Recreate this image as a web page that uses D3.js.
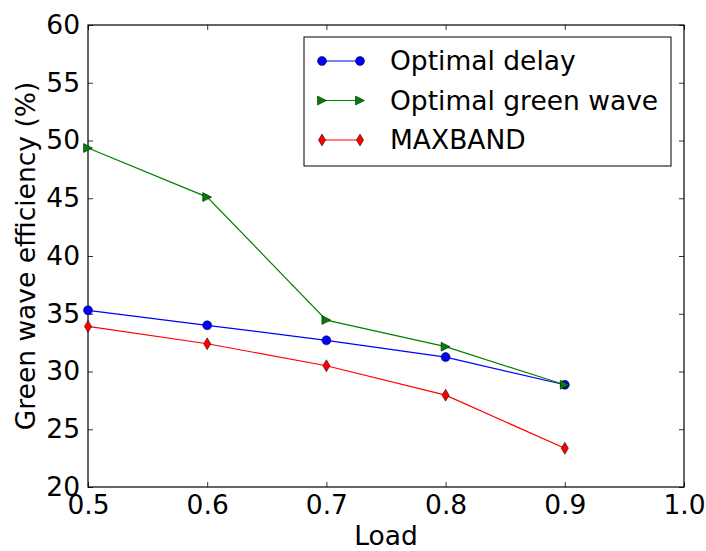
<!DOCTYPE html>
<html>
<head>
<meta charset="utf-8">
<script src="https://cdn.jsdelivr.net/npm/d3@7"></script>
<style>
  body { margin: 0; background: #fff; }
  text { font-family: "DejaVu Sans", sans-serif; fill: #000; }
</style>
</head>
<body>
<div id="chart"></div>
<script>
// Data
const loads = [0.5, 0.6, 0.7, 0.8, 0.9];
const optimalDelay = [35.3, 34.0, 32.7, 31.25, 28.85];
const optimalGreenWave = [49.35, 45.1, 34.45, 32.15, 28.85];
const maxband = [33.9, 32.4, 30.5, 27.95, 23.35];
const xTicks = [0.5, 0.6, 0.7, 0.8, 0.9, 1.0];
const yTicks = [20, 25, 30, 35, 40, 45, 50, 55, 60];

const series = [
    { name: "Optimal delay", values: optimalDelay, color: "#0000ff", marker: "circle" },
    { name: "Optimal green wave", values: optimalGreenWave, color: "#008000", marker: "triangle" },
    { name: "MAXBAND", values: maxband, color: "#ff0000", marker: "diamond" }
];

const W = 706, H = 551;
const margin = { top: 25, right: 22, bottom: 64, left: 88 };
const width = W - margin.left - margin.right;
const height = H - margin.top - margin.bottom;

const svg = d3.select("#chart").append("svg")
    .attr("width", W)
    .attr("height", H);

const g = svg.append("g")
    .attr("transform", `translate(${margin.left},${margin.top})`);

const x = d3.scaleLinear().domain([0.5, 1.0]).range([0, width]);
const y = d3.scaleLinear().domain([20, 60]).range([height, 0]);

const fontSize = 26.5;

// axes: ticks inward on all four sides (classic matplotlib look)
const tickLen = 5;
g.append("g")
    .attr("transform", `translate(0,${height})`)
    .call(d3.axisBottom(x).tickValues(xTicks).tickFormat(d3.format(".1f")).tickSize(-tickLen).tickPadding(7))
    .call(a => a.selectAll("text").attr("font-size", fontSize).attr("dy", "0.75em"));
g.append("g")
    .call(d3.axisLeft(y).tickValues(yTicks).tickFormat(d3.format("d")).tickSize(-tickLen).tickPadding(8))
    .call(a => a.selectAll("text").attr("font-size", fontSize));
g.append("g")
    .call(d3.axisTop(x).tickValues(xTicks).tickFormat("").tickSize(-tickLen));
g.append("g")
    .attr("transform", `translate(${width},0)`)
    .call(d3.axisRight(y).tickValues(yTicks).tickFormat("").tickSize(-tickLen));
g.selectAll(".domain").attr("stroke", "none");
g.selectAll(".tick line").attr("stroke", "#000").attr("stroke-width", 0.8);

g.append("rect")
    .attr("width", width).attr("height", height)
    .attr("fill", "none").attr("stroke", "#000").attr("stroke-width", 1.2);

// labels
svg.append("text")
    .attr("x", margin.left + width / 2)
    .attr("y", 545)
    .attr("text-anchor", "middle")
    .attr("font-size", fontSize)
    .text("Load");
svg.append("text")
    .attr("transform", `translate(35,${margin.top + height / 2}) rotate(-90)`)
    .attr("text-anchor", "middle")
    .attr("font-size", fontSize)
    .text("Green wave efficiency (%)");

function drawMarker(sel, type, color) {
    if (type === "circle") {
        sel.append("circle").attr("r", 4.5)
            .attr("fill", color).attr("stroke", "#000").attr("stroke-width", 0.5);
    } else if (type === "triangle") {
        sel.append("path").attr("d", "M-4.5,-4.5 L4.5,0 L-4.5,4.5 Z")
            .attr("fill", color).attr("stroke", "#000").attr("stroke-width", 0.5);
    } else {
        sel.append("path").attr("d", "M0,-6 L3.6,0 L0,6 L-3.6,0 Z")
            .attr("fill", color).attr("stroke", "#000").attr("stroke-width", 0.5);
    }
}

const line = d3.line().x(d => x(d[0])).y(d => y(d[1]));

const plot = g.append("g");
series.forEach(s => {
    const pts = loads.map((l, i) => [l, s.values[i]]);
    plot.append("path")
        .datum(pts)
        .attr("fill", "none")
        .attr("stroke", s.color)
        .attr("stroke-width", 1.2)
        .attr("d", line);
    plot.selectAll(null).data(pts).enter().append("g")
        .attr("transform", d => `translate(${x(d[0])},${y(d[1])})`)
        .each(function() { drawMarker(d3.select(this), s.marker, s.color); });
});

// legend
const legend = svg.append("g").attr("transform", "translate(304,37)");
legend.append("rect")
    .attr("width", 367).attr("height", 129)
    .attr("fill", "#fff").attr("stroke", "#000").attr("stroke-width", 1);
series.forEach((s, i) => {
    const ly = 24 + i * 39.5;
    const row = legend.append("g").attr("transform", `translate(0,${ly})`);
    row.append("line").attr("x1", 18).attr("x2", 56).attr("y1", 0).attr("y2", 0)
        .attr("stroke", s.color).attr("stroke-width", 1.2);
    [18, 56].forEach(px => {
        const m = row.append("g").attr("transform", `translate(${px},0)`);
        drawMarker(m, s.marker, s.color);
    });
    row.append("text").attr("x", 86).attr("y", 0).attr("dy", "0.35em")
        .attr("font-size", fontSize).text(s.name);
});
</script>
</body>
</html>
